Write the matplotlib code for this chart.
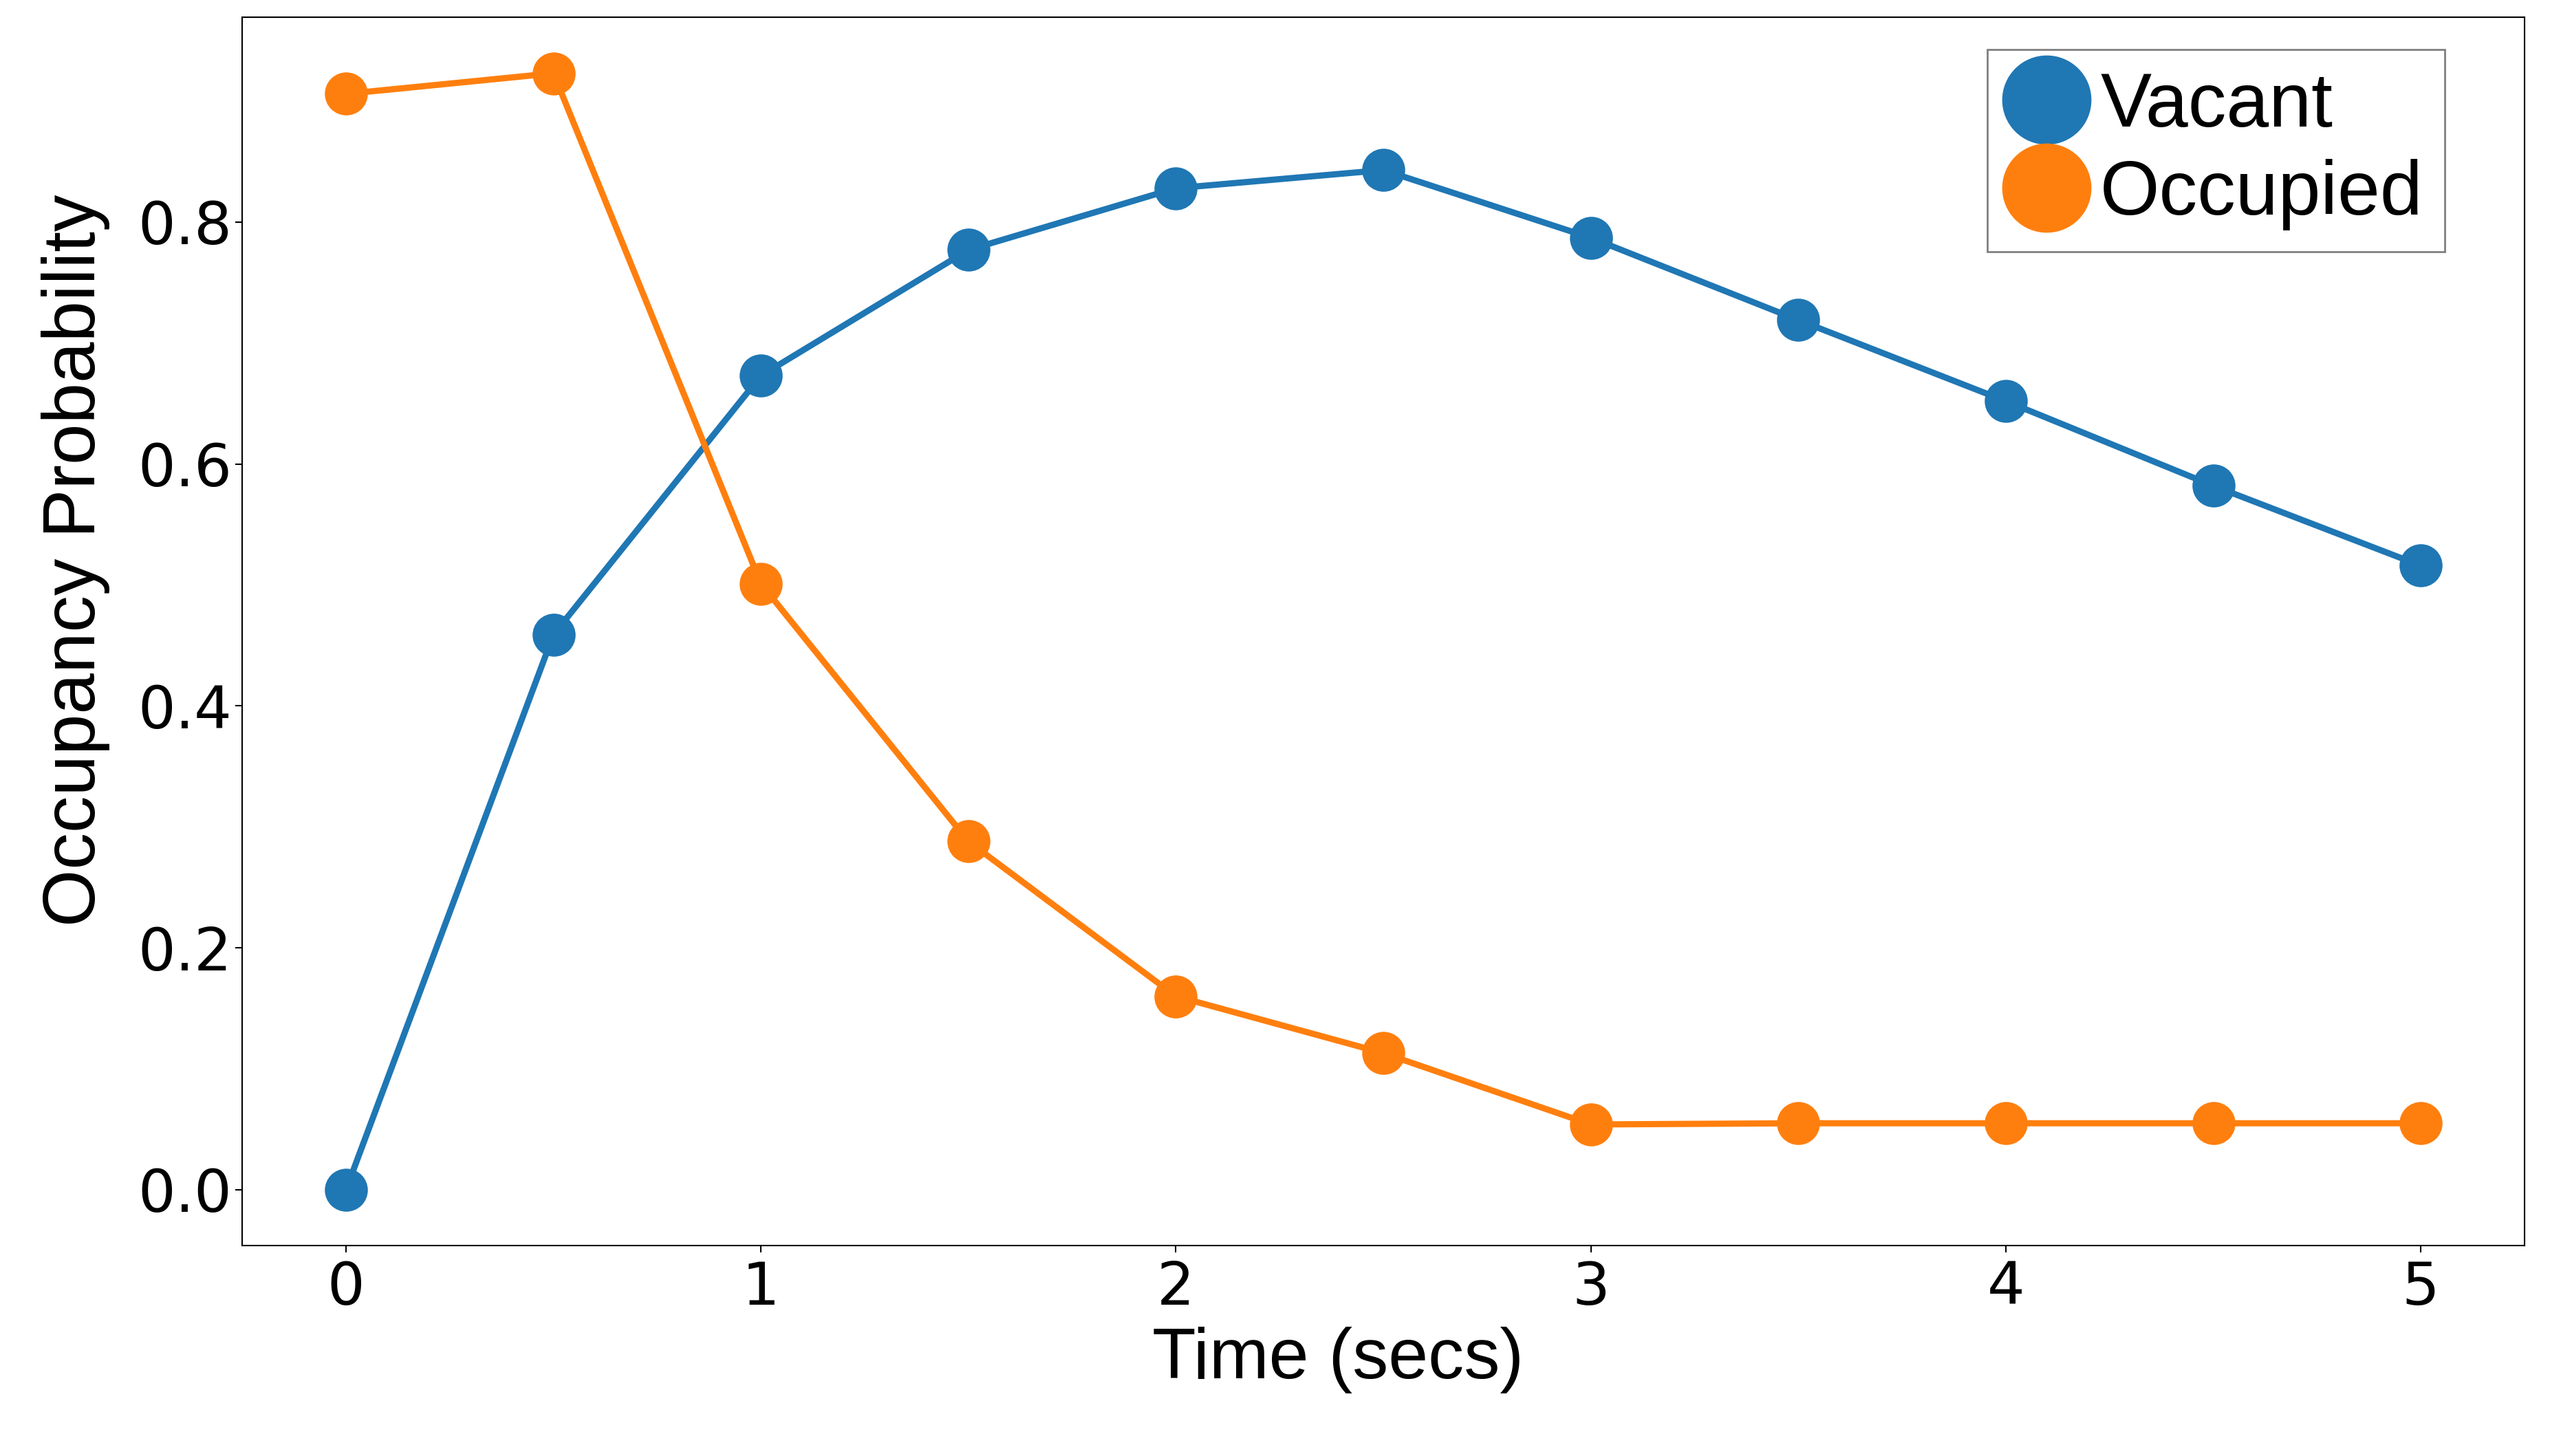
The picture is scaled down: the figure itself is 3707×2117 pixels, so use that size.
import matplotlib
matplotlib.use("Agg")
import matplotlib.pyplot as plt

time_secs = [0, 0.5, 1, 1.5, 2, 2.5, 3, 3.5, 4, 4.5, 5]
vacant = [0.0, 0.459, 0.673, 0.777, 0.828, 0.843, 0.787, 0.719, 0.652, 0.582, 0.516]
occupied = [0.906, 0.923, 0.501, 0.288, 0.160, 0.113, 0.054, 0.055, 0.055, 0.055, 0.055]
series_names = ["Vacant", "Occupied"]
colors = ["#1f77b4", "#ff7f0e"]

fig = plt.figure(figsize=(37.07, 21.17), dpi=100)
ax = fig.add_axes([0.095, 0.1445, 0.895, 0.8435])

for vals, name, c in zip([vacant, occupied], series_names, colors):
    ax.plot(time_secs, vals, color=c, lw=6.5, marker="o", markersize=44, label=name)

label_font = "Liberation Sans"
ax.set_xlabel("Time (secs)", fontsize=75, family=label_font)
ax.set_ylabel("Occupancy Probability", fontsize=77, family=label_font)
ax.xaxis.set_label_coords(0.48, -0.066)
ax.yaxis.set_label_coords(-0.058, 0.558)
ax.tick_params(axis="both", labelsize=62, length=7, width=1.5)
ax.tick_params(axis="x", pad=8)
ax.tick_params(axis="y", pad=4)
for lab in ax.get_xticklabels() + ax.get_yticklabels():
    lab.set_family("DejaVu Sans")
for s in ax.spines.values():
    s.set_linewidth(1.5)

leg = ax.legend(loc="upper left", bbox_to_anchor=(0.7645, 0.974), borderaxespad=0,
                prop={"family": label_font, "size": 80}, markerscale=2.1,
                handlelength=1.0, handletextpad=0.2, borderpad=0.28,
                labelspacing=0.22, fancybox=False, edgecolor="0.5", framealpha=1)
leg.get_frame().set_linewidth(2)

fig.savefig("out.png", dpi=100)
